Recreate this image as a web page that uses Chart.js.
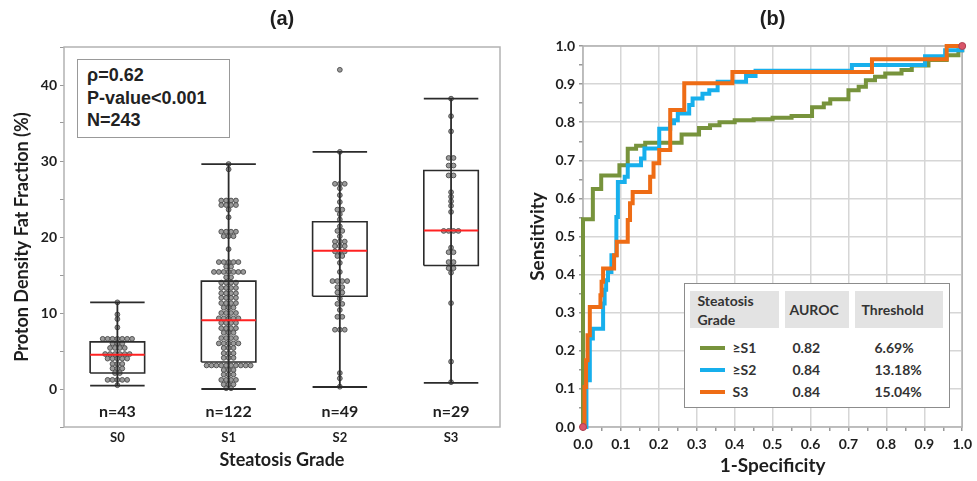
<!DOCTYPE html>
<html>
<head>
<meta charset="utf-8">
<script src="https://cdn.jsdelivr.net/npm/chart.js@4.4.1/dist/chart.umd.min.js"></script>
<style>
  body { margin: 0; background: #fff; width: 977px; height: 481px; overflow: hidden; position: relative; font-family: Lato, sans-serif; }
  #leftWrap { position: absolute; left: 0; top: 0; width: 510px; height: 481px; }
  #rightWrap { position: absolute; left: 510px; top: 0; width: 467px; height: 481px; }
  #statsBox { position: absolute; left: 77px; top: 59px; width: 153px; height: 79px; border: 1.5px solid #999; box-sizing: border-box;
    padding: 4px 0 0 9px; font: bold 18px "Liberation Sans", Arial, sans-serif; line-height: 22.5px; color: #222; background: #fff; }
  #rocTable { position: absolute; left: 684px; top: 283px; width: 266px; height: 125px; border: 1.5px solid #8c8c8c; box-sizing: border-box;
    background: #fff; font: bold 14px Lato, sans-serif; color: #333; }
  .hd { position: absolute; top: 6.5px; height: 37px; background: #e3e3e3; box-sizing: border-box; }
  .row { position: absolute; height: 22px; line-height: 22px; white-space: nowrap; }
  .swatch { position: absolute; width: 25px; height: 4px; }
</style>
</head>
<body>
<div id="leftWrap"><canvas id="boxChart" width="510" height="481"></canvas></div>
<div id="rightWrap"><canvas id="rocChart" width="467" height="481"></canvas></div>
<div id="statsBox"></div>
<div id="rocTable">
  <div class="hd" style="left:4.5px;width:89px;padding-left:8px;line-height:19px;">Steatosis<br>Grade</div>
  <div class="hd" style="left:99.5px;width:64px;padding-left:5px;line-height:37px;">AUROC</div>
  <div class="hd" style="left:169.5px;width:88px;padding-left:7px;line-height:37px;">Threshold</div>
</div>
<script>
// ---- panel (a) data ----
var grades = ['S0', 'S1', 'S2', 'S3'];
var nCounts = [43, 122, 49, 29];
var statsLines = ['ρ=0.62', 'P-value<0.001', 'N=243'];

// PDFF values (%)
var ffS0 = [11.4, 9.8, 9.2, 8.1, 6.6, 6.6, 6.6, 6.6, 6.6, 6.6, 6.6, 6.0, 6.0, 6.0, 5.4, 5.4, 5.4, 5.4,
  4.6, 4.6, 4.6, 4.6, 4.6, 4.6, 4.0, 4.0, 4.0, 4.0, 4.0, 3.3, 3.3, 3.3, 2.7, 2.7, 2.7, 2.1, 2.1,
  1.2, 1.2, 1.2, 1.2, 1.2, 0.5];
var ffS1 = [29.6, 28.9, 24.8, 24.8, 24.8, 24.8, 24.2, 24.2, 24.2, 24.2, 23.6, 22.6,
  20.7, 20.7, 20.7, 20.7, 20.1, 20.1, 20.1, 18.4,
  16.7, 16.7, 16.7, 16.7, 16.7, 16.1, 16.1, 15.4, 15.4, 15.4, 15.4, 15.4, 15.4, 15.4, 14.7, 14.7,
  14.0, 14.0, 14.0, 14.0, 13.3, 13.3, 13.3, 13.3, 12.6, 12.6, 12.6, 12.6, 12.0, 12.0, 12.0, 12.0,
  11.3, 11.3, 11.3, 11.3, 10.7, 10.7, 10.7, 10.0, 10.0, 10.0, 10.0, 9.3, 9.3, 9.3, 9.3, 9.3,
  8.7, 8.7, 8.7, 8.7, 8.0, 8.0, 8.0, 8.0, 7.4, 7.4, 7.4, 6.7, 6.7, 6.7, 6.7, 6.0, 6.0, 6.0, 6.0, 6.0,
  5.4, 5.4, 5.4, 4.7, 4.7, 4.7, 4.1, 4.1, 4.1,
  3.1, 3.1, 3.1, 3.1, 3.1, 3.1, 3.1, 3.1, 3.1, 3.1, 2.5, 2.5, 2.5, 1.9, 1.9, 1.9,
  1.2, 1.2, 1.2, 1.2, 0.6, 0.6, 0.6, 0.1, 0.1];
var ffS2 = [42.0, 31.2, 27.0, 27.0, 27.0, 26.4, 25.5, 24.6, 23.6, 23.6, 23.0, 22.3, 21.4, 20.8, 20.8, 20.1,
  19.4, 19.4, 19.4, 18.8, 18.8, 18.8, 18.1, 18.1, 18.1, 17.5, 17.5, 16.6, 15.4,
  14.2, 14.2, 14.2, 14.2, 13.4, 13.4, 12.7, 12.7, 11.9, 11.2, 11.2, 10.4, 9.5, 9.5,
  7.8, 7.8, 7.8, 2.1, 1.4, 0.3];
var ffS3 = [38.2, 35.9, 33.9, 30.4, 30.4, 29.4, 29.4, 28.1, 28.1, 25.9, 25.3, 24.7, 24.1, 23.3,
  20.8, 20.8, 20.8, 20.8, 18.6, 18.0, 18.0, 16.7, 16.7, 15.9, 15.9, 15.3, 11.3, 3.6, 0.9];

// box statistics
var boxLow = [0.45, 0.0, 0.26, 0.8];
var boxQ1 = [2.1, 3.55, 12.2, 16.25];
var boxMed = [4.5, 9.05, 18.2, 20.85];
var boxQ3 = [6.2, 14.2, 22.0, 28.75];
var boxHigh = [11.4, 29.6, 31.2, 38.2];

// ---- panel (b) data ----
var rocLabels = ['≥S1', '≥S2', 'S3'];
var aurocVals = ['0.82', '0.84', '0.84'];
var thresholds = ['6.69%', '13.18%', '15.04%'];
var fprS1 = [0, 0, 0.026, 0.048, 0.096, 0.118, 0.14, 0.164, 0.26, 0.306, 0.335, 0.36, 0.40, 0.45, 0.50, 0.55,
  0.604, 0.635, 0.652, 0.70, 0.727, 0.746, 0.77, 0.797, 0.84, 0.867, 0.911, 0.959, 0.99, 1.0];
var tprS1 = [0, 0.545, 0.625, 0.66, 0.687, 0.73, 0.738, 0.746, 0.768, 0.785, 0.792, 0.80, 0.805, 0.808, 0.812, 0.816,
  0.839, 0.849, 0.86, 0.884, 0.893, 0.91, 0.919, 0.928, 0.937, 0.949, 0.963, 0.976, 0.989, 1.0];
var fprS2 = [0, 0.009, 0.018, 0.026, 0.053, 0.057, 0.061, 0.066, 0.075, 0.088, 0.092, 0.11, 0.118, 0.153, 0.162,
  0.201, 0.23, 0.24, 0.25, 0.28, 0.289, 0.315, 0.333, 0.355, 0.43, 0.455, 0.709, 0.902, 0.955, 1.0];
var tprS2 = [0, 0.123, 0.232, 0.258, 0.324, 0.36, 0.385, 0.407, 0.451, 0.551, 0.643, 0.657, 0.687, 0.705, 0.731,
  0.783, 0.797, 0.805, 0.823, 0.845, 0.862, 0.875, 0.884, 0.906, 0.921, 0.935, 0.95, 0.973, 0.989, 1.0];
var fprS3 = [0, 0.004, 0.008, 0.012, 0.018, 0.046, 0.049, 0.053, 0.082, 0.089, 0.118, 0.124, 0.131, 0.177, 0.186,
  0.201, 0.23, 0.267, 0.394, 0.762, 0.959, 1.0];
var tprS3 = [0, 0.105, 0.175, 0.241, 0.315, 0.346, 0.381, 0.416, 0.451, 0.486, 0.543, 0.587, 0.617, 0.657, 0.692,
  0.727, 0.832, 0.902, 0.932, 0.965, 1.0, 1.0];
var rocColors = ['#77933C', '#17AFEC', '#EE6C15'];

var panelTitles = ['(a)', '(b)'];
var textColor = '#1e1e1e';

// stats box + roc table text
document.getElementById('statsBox').innerHTML = statsLines.join('<br>');
var tbl = document.getElementById('rocTable');
rocLabels.forEach(function(lab, i) {
  var top = 63.5 + i * 22.4 - 11;
  tbl.insertAdjacentHTML('beforeend',
    '<div class="swatch" style="left:14.5px;top:' + (top + 9) + 'px;background:' + rocColors[i] + '"></div>' +
    '<div class="row" style="left:47.5px;top:' + top + 'px">' + lab + '</div>' +
    '<div class="row" style="left:107.5px;top:' + top + 'px">' + aurocVals[i] + '</div>' +
    '<div class="row" style="left:189.5px;top:' + top + 'px">' + thresholds[i] + '</div>');
});

// simple beeswarm: spread equal values sideways
function swarm(values, center) {
  var counts = {}, seen = {};
  values.forEach(function(v) { counts[v] = (counts[v] || 0) + 1; });
  return values.map(function(v) {
    seen[v] = seen[v] === undefined ? 0 : seen[v] + 1;
    return { x: center + (seen[v] - (counts[v] - 1) / 2) * 0.044, y: v };
  });
}

function lineSet(pts, color, width, order) {
  return { data: pts, showLine: true, borderColor: color, borderWidth: width, pointRadius: 0, order: order, clip: false };
}

var framePlugin = {
  id: 'frame',
  beforeDatasetsDraw: function(chart) {
    var a = chart.chartArea, ctx = chart.ctx;
    ctx.save();
    ctx.strokeStyle = '#b3b3b3';
    ctx.lineWidth = 1.5;
    ctx.strokeRect(a.left, a.top, a.right - a.left, a.bottom - a.top);
    ctx.restore();
  }
};

var titlePlugin = {
  id: 'panelTitle',
  afterDraw: function(chart, args, opts) {
    var a = chart.chartArea, ctx = chart.ctx;
    ctx.save();
    ctx.font = 'bold 20px "Liberation Sans", Arial, sans-serif';
    ctx.fillStyle = textColor;
    ctx.textAlign = 'center';
    ctx.textBaseline = 'middle';
    ctx.fillText(opts.text, (a.left + a.right) / 2, 19);
    ctx.restore();
  }
};

var nPlugin = {
  id: 'nLabels',
  afterDatasetsDraw: function(chart) {
    var ctx = chart.ctx, xs = chart.scales.x, ys = chart.scales.y;
    ctx.save();
    ctx.font = 'bold 16px Lato';
    ctx.fillStyle = textColor;
    ctx.textAlign = 'center';
    ctx.textBaseline = 'middle';
    grades.forEach(function(g, i) {
      ctx.fillText('n=' + nCounts[i], xs.getPixelForValue(i), ys.getPixelForValue(-3));
    });
    ctx.restore();
  }
};

// ---- panel (a) ----
var gradeData = [ffS0, ffS1, ffS2, ffS3];
var hw = 0.245;
var leftSets = [];
grades.forEach(function(g, i) {
  leftSets.push({ data: swarm(gradeData[i], i), showLine: false, pointRadius: 2.4, pointBackgroundColor: '#9b9b9b',
    pointBorderColor: '#4a4a4a', pointBorderWidth: 0.9, order: 3 });
  leftSets.push(lineSet([{ x: i, y: boxLow[i] }, { x: i, y: boxHigh[i] }], '#2b2b2b', 1.8, 2));
  leftSets.push(lineSet([{ x: i - hw, y: boxLow[i] }, { x: i + hw, y: boxLow[i] }], '#2b2b2b', 1.8, 2));
  leftSets.push(lineSet([{ x: i - hw, y: boxHigh[i] }, { x: i + hw, y: boxHigh[i] }], '#2b2b2b', 1.8, 2));
  leftSets.push(lineSet([{ x: i - hw, y: boxQ1[i] }, { x: i + hw, y: boxQ1[i] }, { x: i + hw, y: boxQ3[i] },
    { x: i - hw, y: boxQ3[i] }, { x: i - hw, y: boxQ1[i] }], '#2b2b2b', 1.6, 1));
  leftSets.push(lineSet([{ x: i - hw, y: boxMed[i] }, { x: i + hw, y: boxMed[i] }], '#ff2222', 2, 0));
});

new Chart(document.getElementById('boxChart'), {
  type: 'scatter',
  data: { datasets: leftSets },
  plugins: [framePlugin, titlePlugin, nPlugin],
  options: {
    responsive: false,
    animation: false,
    layout: { padding: { top: 47, right: 10 } },
    plugins: { legend: { display: false }, tooltip: { enabled: false }, panelTitle: { text: panelTitles[0] } },
    scales: {
      x: {
        type: 'linear', min: -0.48, max: 3.44,
        afterBuildTicks: function(s) { s.ticks = grades.map(function(g, i) { return { value: i }; }); },
        afterFit: function(s) { s.height = 54; },
        grid: { display: false, drawTicks: false },
        border: { display: false },
        ticks: { padding: 3, color: textColor, font: { family: 'Lato', size: 13, weight: 'bold' },
          callback: function(v) { return grades[v]; } },
        title: { display: true, text: 'Steatosis Grade', color: textColor,
          font: { family: 'Lato', size: 18, weight: 'bold' }, padding: { top: 0, bottom: 10 } }
      },
      y: {
        min: -5, max: 45,
        afterFit: function(s) { s.width = 64; },
        grid: { drawOnChartArea: false, tickLength: 4, color: '#999' },
        border: { display: false },
        ticks: { stepSize: 5, padding: 3, autoSkip: false, color: textColor, font: { family: 'Lato', size: 14, weight: 'bold' },
          callback: function(v) { return (v >= 0 && v % 10 === 0) ? v : ''; } },
        title: { display: true, text: 'Proton Density Fat Fraction (%)', color: textColor,
          font: { family: 'Lato', size: 18, weight: 'bold' }, padding: { top: 11, bottom: 0 } }
      }
    }
  }
});

// ---- panel (b) ----
function zip(xs, ys) { return xs.map(function(x, i) { return { x: x, y: ys[i] }; }); }
function isMajor(v) { return Math.abs(v * 10 - Math.round(v * 10)) < 1e-6; }

var rocFpr = [fprS1, fprS2, fprS3], rocTpr = [tprS1, tprS2, tprS3];
var rocSets = rocLabels.map(function(lab, i) {
  return { label: lab, data: zip(rocFpr[i], rocTpr[i]), showLine: true, stepped: 'before', borderColor: rocColors[i],
    borderWidth: 4, pointRadius: 0, order: 3 - i, clip: false };
});
rocSets.push({ data: [{ x: 0, y: 0 }, { x: 1, y: 1 }], showLine: false, pointRadius: 3.5,
  pointBackgroundColor: '#d9566a', pointBorderColor: '#b04050', pointBorderWidth: 1, order: -1, clip: false });

var axisFont = { family: 'Lato', size: 14, weight: 'bold' };
new Chart(document.getElementById('rocChart'), {
  type: 'scatter',
  data: { datasets: rocSets },
  plugins: [framePlugin, titlePlugin],
  options: {
    responsive: false,
    animation: false,
    layout: { padding: { top: 46, right: 13 } },
    plugins: { legend: { display: false }, tooltip: { enabled: false }, panelTitle: { text: panelTitles[1] } },
    scales: {
      x: {
        min: 0, max: 1,
        afterFit: function(s) { s.height = 54; },
        grid: { color: function(c) { return isMajor(c.tick.value) ? '#d6d6d6' : 'rgba(0,0,0,0)'; },
          lineWidth: 1.5, tickColor: '#999', tickLength: 4 },
        border: { display: false },
        ticks: { stepSize: 0.05, autoSkip: false, maxRotation: 0, padding: 5, color: textColor, font: axisFont,
          callback: function(v) { return isMajor(v) ? v.toFixed(1) : ''; } },
        title: { display: true, text: '1-Specificity', color: textColor,
          font: { family: 'Lato', size: 19, weight: 'bold' }, padding: { top: 0, bottom: 4 } }
      },
      y: {
        min: 0, max: 1,
        afterFit: function(s) { s.width = 73; },
        grid: { color: function(c) { return isMajor(c.tick.value) ? '#d6d6d6' : 'rgba(0,0,0,0)'; },
          lineWidth: 1.5, tickColor: '#999', tickLength: 4 },
        border: { display: false },
        ticks: { stepSize: 0.05, autoSkip: false, padding: 4, color: textColor, font: axisFont,
          callback: function(v) { return isMajor(v) ? v.toFixed(1) : ''; } },
        title: { display: true, text: 'Sensitivity', color: textColor,
          font: { family: 'Lato', size: 19, weight: 'bold' }, padding: { top: 16, bottom: 0 } }
      }
    }
  }
});
</script>
</body>
</html>
